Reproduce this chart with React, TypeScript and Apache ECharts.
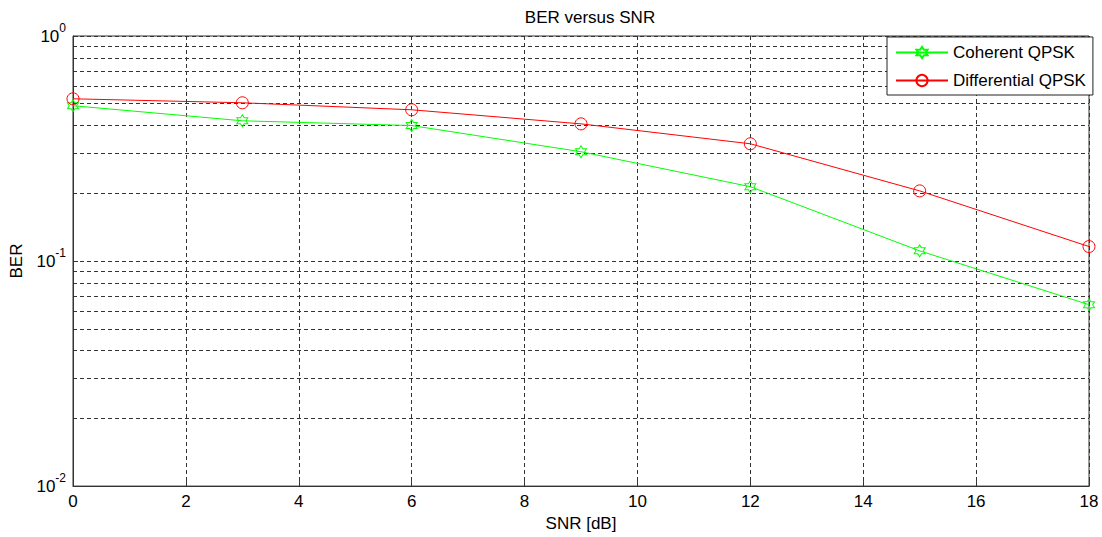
import React, { useEffect, useRef } from "react";
import * as echarts from "echarts";

const snr = [0, 3, 6, 9, 12, 15, 18];
const coherentBER = [0.49, 0.42, 0.40, 0.306, 0.214, 0.111, 0.064];
const differentialBER = [0.526, 0.505, 0.47, 0.407, 0.332, 0.205, 0.116];
const minorGridValues = [0.02, 0.03, 0.04, 0.05, 0.06, 0.07, 0.08, 0.09, 0.2, 0.3, 0.4, 0.5, 0.6, 0.7, 0.8, 0.9];
const seriesNames = ["Coherent QPSK", "Differential QPSK"];

const HEXAGRAM =
  "path://M0,-10L2.89,-5L8.66,-5L5.77,0L8.66,5L2.89,5L0,10L-2.89,5L-8.66,5L-5.77,0L-8.66,-5L-2.89,-5Z";

const FONT = "Liberation Sans, Arial, Helvetica, sans-serif";
const dash = { type: [4, 3] as number[], color: "#333", width: 1 };

export default function App() {
  const ref = useRef<HTMLDivElement>(null);
  useEffect(() => {
    if (!ref.current) return;
    const chart = echarts.init(ref.current, null, { renderer: "svg" });
    chart.setOption({
      animation: false,
      backgroundColor: "#fff",
      textStyle: { fontFamily: FONT },
      title: {
        text: "BER versus SNR",
        left: 585,
        textAlign: "center",
        top: 4,
        textStyle: { fontSize: 17, fontWeight: "normal", color: "#000", fontFamily: FONT },
      },
      legend: {
        data: seriesNames,
        orient: "vertical",
        left: 887,
        top: 37,
        itemWidth: 52,
        itemHeight: 14,
        itemGap: 11,
        padding: [7, 7, 6, 8],
        borderColor: "#222",
        borderWidth: 1,
        backgroundColor: "#fff",
        textStyle: { fontSize: 17, lineHeight: 17, color: "#000", fontFamily: FONT },
      },
      grid: {
        left: 72,
        right: 13,
        top: 36,
        bottom: 50,
        show: true,
        borderColor: "#333",
        borderWidth: 1,
        backgroundColor: "transparent",
      },
      xAxis: {
        type: "value",
        min: 0,
        max: 18,
        interval: 2,
        name: "SNR [dB]",
        nameLocation: "middle",
        nameGap: 26,
        nameTextStyle: { fontSize: 17, color: "#000", fontFamily: FONT },
        axisLine: { show: true, lineStyle: { color: "#333" } },
        axisTick: { show: true, inside: true, length: 5, lineStyle: { color: "#333" } },
        axisLabel: { fontSize: 17, color: "#000", margin: 7, fontFamily: FONT },
        splitLine: { show: true, lineStyle: dash },
      },
      yAxis: {
        type: "log",
        logBase: 10,
        min: 0.01,
        max: 1,
        name: "BER",
        nameLocation: "middle",
        nameGap: 48,
        nameTextStyle: { fontSize: 17, color: "#000", fontFamily: FONT },
        axisLine: { show: true, onZero: false, lineStyle: { color: "#333" } },
        axisTick: { show: true, inside: true, length: 5, lineStyle: { color: "#333" } },
        axisLabel: {
          margin: 7,
          fontFamily: FONT,
          formatter: (v: number) => `{b|10}{s|${Math.round(Math.log10(v))}}`,
          rich: {
            b: { fontSize: 17, lineHeight: 28, verticalAlign: "middle", color: "#000", fontFamily: FONT },
            s: { fontSize: 12, lineHeight: 12, verticalAlign: "top", color: "#000", fontFamily: FONT },
          },
        },
        splitLine: { show: true, lineStyle: dash },
      },
      series: [
        {
          name: "gridlines",
          type: "line",
          data: [],
          silent: true,
          z: 1,
          markLine: {
            silent: true,
            z: 1,
            symbol: ["none", "none"],
            label: { show: false },
            lineStyle: dash,
            emphasis: { disabled: true },
            data: minorGridValues.map((v) => ({ yAxis: v })),
          },
        },
        {
          name: seriesNames[0],
          type: "line",
          z: 3,
          data: snr.map((x, i) => [x, coherentBER[i]]),
          symbol: HEXAGRAM,
          symbolSize: [11, 12],
          showAllSymbol: true,
          lineStyle: { color: "#00ff00", width: 1 },
          itemStyle: { color: "transparent", borderColor: "#00ff00", borderWidth: 1 },
        },
        {
          name: seriesNames[1],
          type: "line",
          z: 3,
          data: snr.map((x, i) => [x, differentialBER[i]]),
          symbol: "circle",
          symbolSize: 12,
          showAllSymbol: true,
          lineStyle: { color: "#ff0000", width: 1 },
          itemStyle: { color: "transparent", borderColor: "#ff0000", borderWidth: 1 },
        },
      ],
    });
    return () => chart.dispose();
  }, []);
  return (
    <div
      ref={ref}
      style={{ position: "fixed", left: 0, top: 0, width: 1102, height: 537 }}
    />
  );
}
